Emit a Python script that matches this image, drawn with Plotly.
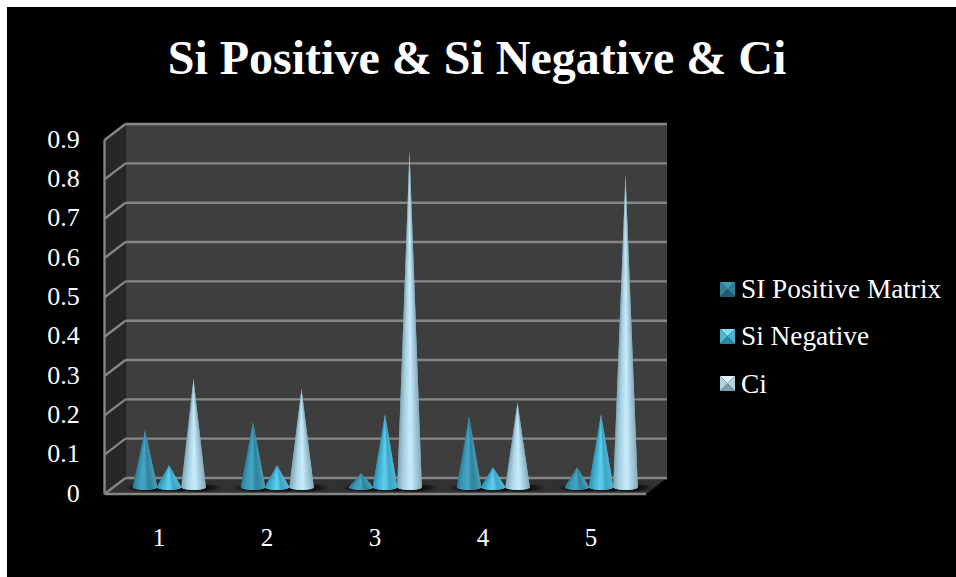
import math
import plotly.graph_objects as go

# ---- data ----
categories = [1, 2, 3, 4, 5]
si_positive = [0.145, 0.165, 0.035, 0.18, 0.05]
si_negative = [0.055, 0.055, 0.185, 0.05, 0.185]
ci = [0.275, 0.25, 0.855, 0.215, 0.795]
y_ticks = [0, 0.1, 0.2, 0.3, 0.4, 0.5, 0.6, 0.7, 0.8, 0.9]
series_names = ["SI Positive Matrix", "Si Negative", "Ci"]

# ---- style ----
W, H = 956, 577
FONT = "Liberation Serif"
PX_PER_UNIT = 393.3       # pixels per 1.0 of value
PX_PER_CAT = 108.0
X1_PX = 159.0             # pixel of category 1
Y0_FRONT = 494.0          # pixel of value 0 on the front of the box
Y0_LABEL = 492.5          # pixel of the "0" tick label
Y0_BACK = 478.0
Y0_CONE = 487.0
LEFT_FRONT, LEFT_BACK = 104.5, 125.5
RIGHT_FRONT, RIGHT_BACK = 646.0, 667.0
offsets = [-14 / PX_PER_CAT, 10 / PX_PER_CAT, 34.5 / PX_PER_CAT]
R = 12.3 / PX_PER_CAT
RY = 3.0 / PX_PER_UNIT
STEPS = 18

ramps = [
    [(0, "#2c7d99"), (0.22, "#3d9bb8"), (0.45, "#46a6c4"), (0.68, "#2f8099"), (1, "#4a9db8")],
    [(0, "#2f98bc"), (0.25, "#45b6d8"), (0.5, "#65d0ef"), (0.72, "#3aa5c8"), (1, "#55b5d3")],
    [(0, "#7ea7b8"), (0.25, "#a9d3e4"), (0.55, "#c9ecfa"), (0.8, "#a2c9d9"), (1, "#88aebd")],
]
# top, sides, bottom of the small pyramids in the legend
swatch_facets = [("#3f97b2", "#357f98", "#1f5d72"),
                 ("#7fdcf3", "#4fb4d2", "#2c86a4"),
                 ("#dff2f9", "#b4d3df", "#7ba1b0")]
SWATCH_X = 727.5
SWATCH_Y = [289.5, 336.5, 383.5]
SWATCH_R = 7.5


def ramp_color(stops, t):
    for (t0, c0), (t1, c1) in zip(stops, stops[1:]):
        if t <= t1:
            f = (t - t0) / (t1 - t0)
            a = [int(c0[i:i + 2], 16) for i in (1, 3, 5)]
            b = [int(c1[i:i + 2], 16) for i in (1, 3, 5)]
            return "rgb(%d,%d,%d)" % tuple(round(p + (q - p) * f) for p, q in zip(a, b))
    return stops[-1][1]


def px(x):
    return x / W


def py(y):
    return 1 - y / H


def poly(points, fill):
    d = "M" + "L".join(f"{x/W:.5f},{1-y/H:.5f}" for x, y in points) + "Z"
    return dict(type="path", xref="paper", yref="paper", path=d, fillcolor=fill,
                line=dict(width=0), layer="below")


def seg(x0, y0, x1, y1):
    return dict(type="line", xref="paper", yref="paper", x0=px(x0), y0=py(y0), x1=px(x1), y1=py(y1),
                line=dict(color="#868686", width=2.4), layer="below")


shapes = [
    dict(type="rect", xref="paper", yref="paper", x0=px(7), y0=0, x1=1, y1=py(7),
         fillcolor="#000000", line=dict(width=0), layer="below"),
    poly([(LEFT_BACK, Y0_BACK - 0.9 * PX_PER_UNIT), (RIGHT_BACK, Y0_BACK - 0.9 * PX_PER_UNIT),
          (RIGHT_BACK, Y0_BACK), (LEFT_BACK, Y0_BACK)], "#3e3e3e"),
    poly([(LEFT_FRONT, Y0_FRONT - 0.9 * PX_PER_UNIT), (LEFT_BACK, Y0_BACK - 0.9 * PX_PER_UNIT),
          (LEFT_BACK, Y0_BACK), (LEFT_FRONT, Y0_FRONT)], "#272727"),
    poly([(LEFT_FRONT, Y0_FRONT), (LEFT_BACK, Y0_BACK), (RIGHT_BACK, Y0_BACK), (RIGHT_FRONT, Y0_FRONT)],
         "#313131"),
]
for v in y_ticks:
    dy = v * PX_PER_UNIT
    shapes.append(seg(LEFT_FRONT, Y0_FRONT - dy, LEFT_BACK, Y0_BACK - dy))
    shapes.append(seg(LEFT_BACK, Y0_BACK - dy, RIGHT_BACK, Y0_BACK - dy))
shapes.append(seg(LEFT_FRONT, Y0_FRONT - 0.9 * PX_PER_UNIT, LEFT_FRONT, Y0_FRONT))
shapes.append(seg(LEFT_FRONT, Y0_FRONT, RIGHT_FRONT, Y0_FRONT))

# soft floor shadow under the bases
for cat in categories:
    for s in range(3):
        cx = cat + offsets[s] + 4 / PX_PER_CAT
        for grow, op in ((1.9, 0.18), (1.55, 0.25), (1.25, 0.3)):
            shapes.append(dict(type="circle", xref="x", yref="y2", layer="below",
                               x0=cx - R * grow, x1=cx + R * grow,
                               y0=-1.5 * RY, y1=1.0 * RY,
                               fillcolor=f"rgba(0,0,0,{op})", line=dict(width=0)))

# four-faceted legend keys
for (top, side, bottom), yc in zip(swatch_facets, SWATCH_Y):
    x0, x1 = SWATCH_X - SWATCH_R, SWATCH_X + SWATCH_R
    y0, y1 = yc - SWATCH_R, yc + SWATCH_R
    c = (SWATCH_X, yc)
    shapes.append(poly([(x0, y0), (x1, y0), c], top))
    shapes.append(poly([(x0, y0), (x0, y1), c], side))
    shapes.append(poly([(x1, y0), (x1, y1), c], side))
    shapes.append(poly([(x0, y1), (x1, y1), c], bottom))

fig = go.Figure()
values = [si_positive, si_negative, ci]

for s, (name, vals) in enumerate(zip(series_names, values)):
    # narrow wedges from apex to base, each overlapped by the next one so no seams show
    for j in range(STEPS):
        th0 = -math.pi / 2 + math.pi * j / STEPS
        th1 = min(math.pi / 2, th0 + 2 * math.pi / STEPS)
        xs, ys = [], []
        for cat, v in zip(categories, vals):
            cx = cat + offsets[s]
            arc = [th0 + (th1 - th0) * k / 4 for k in range(5)]
            xs += [cx] + [cx + R * math.sin(a) for a in arc] + [cx, None]
            ys += [v] + [-RY * math.cos(a) for a in arc] + [v, None]
        t = (math.sin(th0 + math.pi / STEPS / 2) + 1) / 2
        fig.add_trace(go.Scatter(
            x=xs, y=ys, yaxis="y2", mode="lines", fill="toself",
            fillcolor=ramp_color(ramps[s], t), line=dict(width=0, simplify=False),
            hoverinfo="skip", showlegend=False, legendgroup=name))
    fig.add_trace(go.Scatter(
        x=[None], y=[None], mode="markers", name=name, legendgroup=name,
        marker=dict(symbol="square", size=15, color="rgba(0,0,0,0)", line=dict(width=0))))

fig.update_layout(
    width=W, height=H, autosize=False,
    margin=dict(l=0, r=0, t=0, b=0, pad=0),
    paper_bgcolor="#ffffff", plot_bgcolor="rgba(0,0,0,0)",
    shapes=shapes,
    showlegend=True,
    legend=dict(x=px(701), xanchor="left", y=py(263), yanchor="top",
                bgcolor="rgba(0,0,0,0)", font=dict(family=FONT, size=27.3, color="#ffffff"),
                tracegroupgap=9, itemsizing="constant", traceorder="grouped"),
    title=dict(text="<b>Si Positive & Si Negative & Ci</b>", x=477 / W, xanchor="center",
               y=py(57), yanchor="middle", font=dict(family=FONT, size=48, color="#ffffff")),
    xaxis=dict(
        domain=[0, 1], range=[1 - X1_PX / PX_PER_CAT, 1 + (W - X1_PX) / PX_PER_CAT],
        showgrid=False, zeroline=False, showline=False, tickmode="array",
        tickvals=categories, ticktext=[str(c) for c in categories],
        ticks="", side="bottom", anchor="free", position=py(520),
        tickfont=dict(family=FONT, size=25, color="#ffffff")),
    yaxis=dict(
        domain=[0, 1], range=[(Y0_LABEL - H) / PX_PER_UNIT, Y0_LABEL / PX_PER_UNIT],
        showgrid=False, zeroline=False, showline=False, tickmode="array",
        tickvals=y_ticks, ticktext=[str(v) for v in y_ticks],
        ticks="outside", ticklen=1, tickcolor="rgba(0,0,0,0)",
        anchor="free", position=px(86), side="left",
        tickfont=dict(family=FONT, size=26, color="#ffffff")),
    yaxis2=dict(
        domain=[0, 1], range=[(Y0_CONE - H) / PX_PER_UNIT, Y0_CONE / PX_PER_UNIT],
        overlaying="y", visible=False),
)

fig.write_html("out.html", config={"displayModeBar": False},
               post_script="document.body.style.margin='0';document.body.style.overflow='hidden';")
